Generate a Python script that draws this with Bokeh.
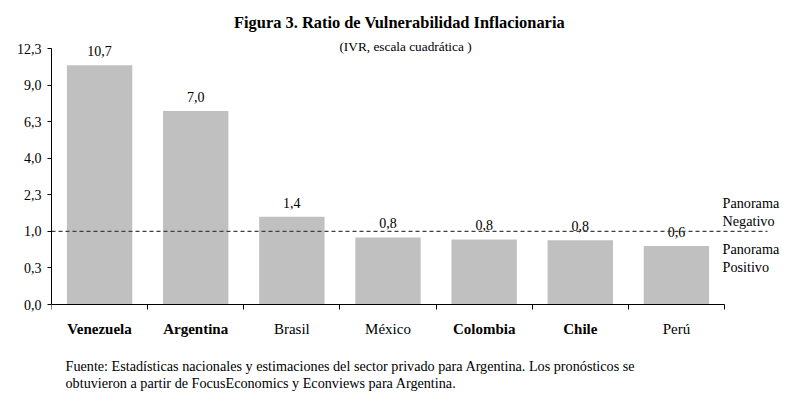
import math
from bokeh.plotting import figure
from bokeh.models import ColumnDataSource, Range1d, FixedTicker
from bokeh.core.properties import value
from bokeh.embed import file_html
from bokeh.resources import INLINE

# ---- data ----
countries = ["Venezuela", "Argentina", "Brasil", "México", "Colombia", "Chile", "Perú"]
bold_names = [True, True, False, False, True, True, False]
ivr = [10.7, 7.0, 1.44, 0.84, 0.79, 0.77, 0.64]
y_ticks_sqrt = [0.0, 0.5, 1.0, 1.5, 2.0, 2.5, 3.0, 3.5]
y_tick_labels = ["0,0", "0,3", "1,0", "2,3", "4,0", "6,3", "9,0", "12,3"]
threshold = 1.0
title_text = "Figura 3. Ratio de Vulnerabilidad Inflacionaria"
subtitle_text = "(IVR, escala cuadrática )"
foot_lines = ["Fuente: Estadísticas nacionales y estimaciones del sector privado para Argentina. Los pronósticos se",
              "obtuvieron a partir de FocusEconomics y Econviews para Argentina."]
notes = ["Panorama", "Negativo", "Panorama", "Positivo"]

FONT = "Liberation Serif"

# frame geometry (page pixels)
FL, FR, FT, FB = 51, 784, 6, 394
X0PX, Y0PX = 51, 304          # where data origin sits
PX_PER_CAT = (724 - 51) / 7.0
PX_PER_SQRT = (304 - 48) / 3.5


def px2x(px):
    return (px - X0PX) / PX_PER_CAT


def py2y(py):
    return (Y0PX - py) / PX_PER_SQRT


xc = [i + 0.5 for i in range(len(countries))]
ys = [math.sqrt(v) for v in ivr]
lbl = [("%.1f" % v).replace(".", ",") for v in ivr]
src = ColumnDataSource(dict(x=xc, top=ys, label=lbl))

p = figure(width=788, height=396,
           x_range=Range1d(px2x(FL), px2x(FR)), y_range=Range1d(py2y(FB), py2y(FT)),
           output_backend="svg", toolbar_location=None,
           min_border_left=FL, min_border_right=788 - FR, min_border_top=FT,
           min_border_bottom=396 - FB)
p.outline_line_color = None
p.grid.visible = False
p.background_fill_color = "white"
p.border_fill_color = "white"

p.vbar(x="x", top="top", bottom=0, width=0.68, source=src,
       fill_color="#C0C0C0", line_color=None)

p.text(x="x", y="top", text="label", source=src, text_align="center",
       text_baseline="bottom", y_offset=-9, text_font=value(FONT),
       text_font_size="14px", text_color="black")

# threshold line
p.line(x=[0, px2x(767)], y=[math.sqrt(threshold)] * 2, line_dash="4 3",
       line_color="#404040", line_width=1.2)

# axes
ya = p.yaxis[0]
ya.ticker = FixedTicker(ticks=y_ticks_sqrt)
ya.major_label_overrides = {t: l for t, l in zip(y_ticks_sqrt, y_tick_labels)}
ya.bounds = (0, 3.5)
ya.major_tick_out = 4
ya.major_tick_in = 0
ya.minor_tick_out = 0
ya.minor_tick_in = 0
ya.major_label_standoff = 6
ya.major_label_text_font = FONT
ya.major_label_text_font_size = "14px"
ya.major_label_text_color = "black"
ya.axis_line_color = "black"

xa = p.xaxis[0]
xa.fixed_location = 0
xa.ticker = FixedTicker(ticks=list(range(len(countries) + 1)))
xa.bounds = (0, len(countries))
xa.major_tick_out = 5
xa.major_tick_in = 0
xa.minor_tick_out = 0
xa.minor_tick_in = 0
xa.major_label_standoff = 0
xa.major_label_text_font_size = "0px"
xa.major_label_text_alpha = 0
xa.axis_line_color = "black"

# category labels (bold / normal as in the reference)
bold_src = ColumnDataSource(dict(x=[x for x, b in zip(xc, bold_names) if b],
                                 t=[n for n, b in zip(countries, bold_names) if b]))
norm_src = ColumnDataSource(dict(x=[x for x, b in zip(xc, bold_names) if not b],
                                 t=[n for n, b in zip(countries, bold_names) if not b]))
for s, style in [(bold_src, "bold"), (norm_src, "normal")]:
    p.text(x="x", y=py2y(328), text="t", source=s, text_align="center",
           text_baseline="middle", text_font=value(FONT), text_font_size="15px",
           text_font_style=style, text_color="black")

# titles
p.text(x=[px2x(399)], y=[py2y(22)], text=[title_text], text_align="center",
       text_baseline="middle", text_font=value(FONT), text_font_size="16.4px",
       text_font_style="bold", text_color="black")
p.text(x=[px2x(405)], y=[py2y(46)], text=[subtitle_text], text_align="center",
       text_baseline="middle", text_font=value(FONT), text_font_size="13.3px",
       text_color="black")

# panorama notes
p.text(x=[px2x(722)] * 4, y=[py2y(v) for v in (202, 220, 248, 266)], text=notes,
       text_align="left", text_baseline="middle", text_font=value(FONT),
       text_font_size="14.2px", text_color="black")

# footnote
p.text(x=[px2x(65)] * 2, y=[py2y(365), py2y(382)], text=foot_lines,
       text_align="left", text_baseline="middle", text_font=value(FONT),
       text_font_size="14.2px", text_color="black")

open("out.html", "w").write(file_html(p, INLINE))
